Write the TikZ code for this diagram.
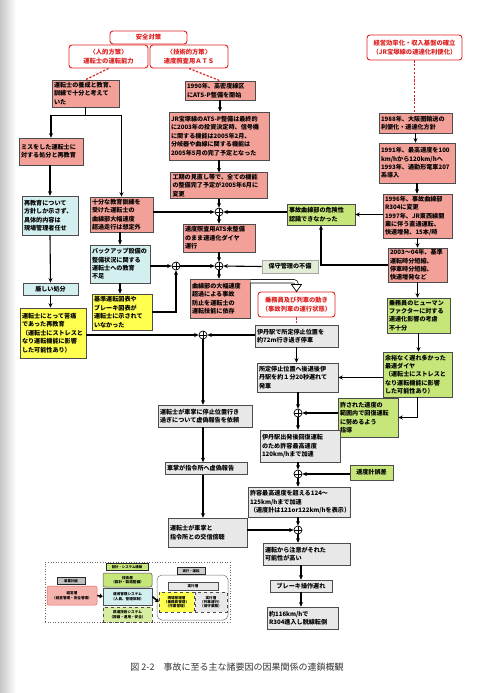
\documentclass[tikz,border=0pt]{standalone}
\usepackage{fontspec}
\setmainfont{Noto Sans CJK JP}
\usepackage{tikz}
\usetikzlibrary{arrows.meta,positioning,calc}
\definecolor{pinkfill}{RGB}{243,160,152}
\definecolor{bluefill}{RGB}{212,239,240}
\definecolor{yelfill}{RGB}{255,255,80}
\definecolor{grnfill}{RGB}{198,230,122}
\definecolor{grayfill}{RGB}{232,232,232}
\definecolor{hoshufill}{RGB}{226,236,214}
\definecolor{redline}{RGB}{222,32,32}
\newcommand{\boxfont}{\fontsize{6.1}{8.4}\selectfont\bfseries}

\begin{document}
\begin{tikzpicture}[x=1pt, y=-1pt,
    box/.style={rectangle, draw=black!70, line width=0.6pt, font=\boxfont,
                align=left, inner xsep=2pt, inner ysep=1.5pt},
    sz/.style 2 args={text width=#1pt, minimum height=#2pt},
    szc/.style 2 args={minimum width=#1pt, minimum height=#2pt, align=center},
    redbox/.style={rectangle, rounded corners=3pt, draw=redline, line width=0.9pt,
                   fill=white, text=redline, align=center, inner sep=1pt,
                   font=\fontsize{6.3}{8.4}\selectfont\bfseries},
    junction/.style={circle, draw, line width=0.7pt, fill=white, minimum size=8pt,
                     inner sep=0pt,
                     path picture={\draw[line width=0.6pt]
                       (path picture bounding box.north) -- (path picture bounding box.south)
                       (path picture bounding box.west) -- (path picture bounding box.east);}},
    arrow/.style={-{Stealth[length=4.5pt, width=4pt]}, line width=1.1pt},
    reddash/.style={draw=redline, line width=1.2pt, dash pattern=on 2.2pt off 1.6pt},
    lgbox/.style={rectangle, draw=black!70, line width=0.5pt, align=center, inner sep=0.8pt,
                  font=\fontsize{3.6}{4.3}\selectfont\bfseries},
    lgtag/.style={lgbox, line width=0.9pt, draw=black!85,
                  font=\fontsize{3.4}{4}\selectfont\bfseries}
]
\shade[left color=black!22, right color=white] (0,0) rectangle (16,693);
\useasboundingbox (0,0) rectangle (500,693);

\node[redbox, minimum width=79pt, minimum height=23pt] (jinteki) at (108.5,56.5) {〈人的方策〉\\運転士の運転能力};
\node[redbox, minimum width=78pt, minimum height=23pt] (gijutsu) at (189,56.5) {〈技術的方策〉\\速度照査用ＡＴＳ};
\node[redbox, minimum width=77pt, minimum height=13pt] (anzen) at (148.5,37.5) {安全対策};
\node[redbox, minimum width=95pt, minimum height=25pt] (keiei) at (414.5,47.5) {経営効率化・収入基盤の確立\\（JR宝塚線の速達化利便化）};
\node[redbox, minimum width=77pt, minimum height=25pt] (jomu) at (296.5,304.5) {乗務員及び列車の動き\\（事故列車の運行状態）};

\node[box, fill=pinkfill, sz={63}{27}] (yosei) at (85.5,93.5) {運転士の養成と教育、\\訓練で十分と考えて\\いた};
\node[box, fill=pinkfill, sz={66}{19}] (ats1990) at (220,90.5) {1990年、高密度線区\\にATS-P整備を開始};
\node[box, fill=pinkfill, sz={96}{48}] (atsp) at (219,136) {JR宝塚線のATS-P整備は最終的\\に2003年の投資決定時、信号機\\に関する機能は2005年2月、\\分岐器や曲線に関する機能は\\2005年5月の完了予定となった};
\node[box, fill=pinkfill, sz={93}{25}] (koki) at (219,185.5) {工期の見直し等で、全ての機能\\の整備完了予定が2005年6月に\\変更};
\node[box, fill=pinkfill, sz={68}{28}] (misoku) at (219,238) {速度照査用ATS未整備\\のまま速達化ダイヤ\\運行};
\node[box, fill=pinkfill, sz={56}{39}] (kyokusen) at (220,298.5) {曲線部の大幅速度\\超過による事故\\防止を運転士の\\運転技能に依存};
\node[box, fill=pinkfill, sz={60}{27}] (miss) at (51,151.5) {ミスをした運転士に\\対する処分と再教育};
\node[box, fill=pinkfill, sz={59}{35}] (jubun) at (121.5,214.5) {十分な教育訓練を\\受けた運転士の\\曲線部大幅速度\\超過走行は想定外};
\node[box, fill=pinkfill, sz={69}{20}] (r1988) at (415.5,123) {1988年、大阪圏輸送の\\利便化・速達化方針};
\node[box, fill=pinkfill, sz={72}{40}] (r1991) at (417,163) {1991年、最高速度を100\\km/hから120km/hへ\\1993年、通勤形電車207\\系導入};
\node[box, fill=pinkfill, sz={65}{44}] (r1996) at (417.5,216) {1996年、事故曲線部\\R304に変更\\1997年、JR東西線開\\業に伴う直通運転、\\快速増発、15本/時};
\node[box, fill=pinkfill, sz={55}{34}] (r2003) at (417.5,265) {2003～04年、基準\\運転時分短縮、\\停車時分短縮、\\快速増発など};

\node[box, fill=bluefill, sz={52}{39}] (saikyoiku) at (50,215.5) {再教育について\\方針しか示さず、\\具体的内容は\\現場管理者任せ};
\node[box, fill=bluefill, szc={55}{12}] (kibishii) at (50.5,289) {厳しい処分};
\node[box, fill=bluefill, sz={56}{38}] (backup) at (120,264) {バックアップ設備の\\整備状況に関する\\運転士への教育\\不足};

\node[box, fill=yelfill, sz={62}{50}] (kutsu) at (53,333) {運転士にとって苦痛\\であった再教育\\（運転士にストレスと\\なり運転機能に影響\\した可能性あり）};
\node[box, fill=yelfill, sz={56}{36}] (kijun) at (122,312) {基準運転図表や\\ブレーキ図表が\\運転士に示されて\\いなかった};

\node[box, fill=grnfill, sz={64}{21}] (kiken) at (321,214.5) {事故曲線部の危険性\\認識できなかった};
\node[box, fill=grnfill, sz={59}{35}] (human) at (418.5,315.5) {乗務員のヒューマン\\ファクターに対する\\速達化影響の考慮\\不十分};
\node[box, fill=grnfill, sz={65}{45}] (yoyu) at (417.5,374.5) {余裕なく遅れ多かった\\最速ダイヤ\\（運転士にストレスと\\なり運転機能に影響\\した可能性あり）};
\node[box, fill=grnfill, sz={56}{39}] (yurusa) at (368,417.5) {許された速度の\\範囲内で回復運転\\に努めるよう\\指導};
\node[box, fill=grnfill, szc={43}{15}] (sokudokei) at (371.5,472.5) {速度計誤差};
\node[box, fill=hoshufill, draw=black!35, szc={56}{13}] (hoshu) at (290,266.5) {保守管理の不備};

\node[box, fill=grayfill, sz={79}{22}] (itami) at (296.5,336) {伊丹駅で所定停止位置を\\約72m行き過ぎ停車};
\node[box, fill=grayfill, sz={90}{22}] (kyogi) at (205,416) {運転士が車掌に停止位置行き\\過ぎについて虚偽報告を依頼};
\node[box, fill=grayfill, sz={78}{12}] (shasho) at (206,468.5) {車掌が指令所へ虚偽報告};
\node[box, fill=grayfill, sz={75}{29}] (kosin) at (207.5,532.5) {運転士が車掌と\\指令所との交信傍聴};
\node[box, fill=grayfill, sz={77}{29}] (teishi) at (297.5,377.5) {所定停止位置へ後退後伊\\丹駅を約１分20秒遅れて\\発車};
\node[box, fill=grayfill, sz={76}{32}] (kasoku) at (300,446) {伊丹駅出発後回復運転\\のため許容最高速度\\120km/hまで加速};
\node[box, fill=grayfill, sz={98}{30}] (choka) at (299,502) {許容最高速度を超える124～\\125km/hまで加速\\（速度計は121or122km/hを表示）};
\node[box, fill=grayfill, sz={83}{22}] (chui) at (306.5,554) {運転から注意がそれた\\可能性が高い};
\node[box, fill=grayfill, szc={62}{12}] (brake) at (301,586) {ブレーキ操作遅れ};
\node[box, fill=grayfill, sz={67}{22}] (dassen) at (302.5,618) {約116km/hで\\R304進入し脱線転倒};

\node[junction] (c1) at (219,212) {};
\node[junction] (c2) at (176,266) {};
\node[junction] (c3) at (219,266) {};
\node[junction] (c4) at (203,335) {};
\node[junction] (c5) at (298,413) {};
\node[junction] (c6) at (298,474) {};
\node[junction] (c7) at (298,530) {};

\draw[reddash] (jinteki.south) -- (yosei.north);
\draw[reddash] (gijutsu.south) -- (ats1990.north);
\draw[reddash] (keiei.south) -- (keiei.south |- r1988.north);
\draw[reddash] (jomu.south) -- (jomu.south |- itami.north);

\draw[arrow] (yosei.south) -- ++(0,8) -| (miss.north);
\draw[arrow] (yosei.south) -- ++(0,8) -| (jubun.north);
\draw[arrow] (saikyoiku.north |- miss.south) -- (saikyoiku.north);
\draw[arrow] (saikyoiku.south) -- (kibishii.north);
\draw[arrow] (kibishii.south) -- (kibishii.south |- kutsu.north);
\draw[arrow] (jubun.south -| backup) -- (backup.north);
\draw[arrow] (backup.south) -- (backup.south |- kijun.north);
\draw[arrow] (jubun.east |- c1) -- (c1);
\draw[arrow] (backup.east |- c2) -- (c2);
\draw[arrow] (kijun.east) -| (c2);
\draw[arrow] (c2) -- (c3);

\draw[arrow] (ats1990.south) -- (ats1990.south |- atsp.north);
\draw[arrow] (atsp.south) -- (koki.north);
\draw[arrow] (koki.south) -- (c1);
\draw[arrow] (c1) -- (misoku.north);
\draw[arrow] (misoku.south) -- (c3);
\draw[arrow] (hoshu.west) -- (c3);
\draw[arrow] (c3) -- (c3 |- kyokusen.north);
\draw[arrow] (kiken.west |- c1) -- (c1);

\draw[arrow] (r1988.south) -- (r1988.south |- r1991.north);
\draw[arrow] (r1991.south) -- (r1991.south |- r1996.north);
\draw[arrow] (r1996.south) -- (r1996.south |- r2003.north);
\draw[arrow] (r1996.west |- kiken.east) -- (kiken.east);
\draw[arrow] (r2003.west) -| (kiken.south);
\draw[arrow] (r2003.south) -- (r2003.south |- human.north);
\draw[arrow] (human.south) -- (human.south |- yoyu.north);
\draw[arrow] (yoyu.west |- teishi.east) -- (teishi.east);
\draw[arrow] (yoyu.south) |- (yurusa.east);

\draw[double=white, double distance=2.8pt, line width=0.7pt, rounded corners=3pt]
    ([yshift=-2.5pt]kyokusen.north east) -| ([yshift=7pt]jomu.north);
\filldraw[fill=white, line width=0.7pt] ([xshift=-5pt, yshift=7pt]jomu.north)
    -- ([xshift=5pt, yshift=7pt]jomu.north) -- (jomu.north) -- cycle;

\draw[arrow] (kutsu.east |- c4) -- (c4);
\draw[arrow] (itami.west |- c4) -- (c4);
\draw[arrow] (c4) -- (c4 |- kyogi.north);
\draw[arrow] (c4 |- kyogi.south) -- (c4 |- shasho.north);
\draw[arrow] (c4 |- shasho.south) -- (c4 |- kosin.north);
\draw[arrow] (itami.south) -- (itami.south |- teishi.north);
\draw[arrow] (teishi.south -| c5) -- (c5);
\draw[arrow] (yurusa.west |- c5) -- (c5);
\draw[arrow] (c5) -- (c5 |- kasoku.north);
\draw[arrow] (kasoku.south -| c6) -- (c6);
\draw[arrow] (sokudokei.west |- c6) -- (c6);
\draw[arrow] (c6) -- (c6 |- choka.north);
\draw[arrow] (choka.south -| c7) -- (c7);
\draw[arrow] (kosin.east |- c7) -- (c7);
\draw[arrow] (c7) -- (c7 |- chui.north);
\draw[arrow] (chui.south -| brake) -- (brake.north);
\draw[arrow] (brake.south) -- (brake.south |- dassen.north);

\node[draw=black!60, dotted, line width=0.6pt, minimum width=185pt, minimum height=60pt] (legend) at (137.5,592) {};
\node[lgbox, rounded corners=2pt, fill=pinkfill!80, draw=redline!70, minimum width=50pt, minimum height=19pt] (lgkeiei) at (72,595.5) {経営層\\（経営管理・安全管理）};
\node[lgtag, fill=black!25, minimum width=28pt, minimum height=7pt] (lgplan) at (71,581) {事業計画};
\node[lgbox, rounded corners=2pt, fill=grnfill, minimum width=49pt, minimum height=14pt] (lgtech) at (127.5,580) {技術層\\（設計・製造整備）};
\node[lgbox, fill=bluefill, minimum width=49pt, minimum height=17pt] (lgops) at (127.5,596.5) {運用管理システム\\（人員、管理体制）};
\node[lgbox, dashed, fill=grnfill!70, minimum width=49pt, minimum height=15pt] (lgrail) at (127.5,614.5) {鉄道技術システム\\（設備・運用・安全）};
\node[lgtag, fill=grnfill, minimum width=42pt, minimum height=7pt] (lgdesign) at (127,567) {設計・システム構築};
\node[lgbox, rounded corners=5pt, fill=white, draw=black!55, minimum width=71pt, minimum height=45pt] (lgexec) at (192.5,597.5) {};
\node[lgtag, fill=black!20, minimum width=28pt, minimum height=7pt] (lgrun) at (191,571) {実行・運転};
\node[lgbox, fill=grayfill, minimum width=50pt, minimum height=8pt] (lgjikko) at (193,586) {実行層};
\node[lgbox, dashed, fill=yelfill, minimum width=35pt, minimum height=20pt] (lgsite) at (176.5,602) {現場管理層\\（乗務員管理）\\（作業管理）};
\node[lgbox, dashed, fill=grayfill, minimum width=32pt, minimum height=20pt] (lgcrew) at (211,602) {実行層\\（列車運行）\\（保守業務）};
\draw[-{Triangle[length=3pt, width=4.5pt]}, line width=1.6pt] (lgkeiei.east) -- (lgops.west);
\draw[-{Triangle[length=3pt, width=4.5pt]}, line width=1.6pt] (lgops.east) -- (lgsite.west);

\node[font=\fontsize{9}{11}\selectfont, text=black!80] (caption) at (237,667) {図 2-2　事故に至る主な諸要因の因果関係の連鎖概観};
\end{tikzpicture}
\end{document}
